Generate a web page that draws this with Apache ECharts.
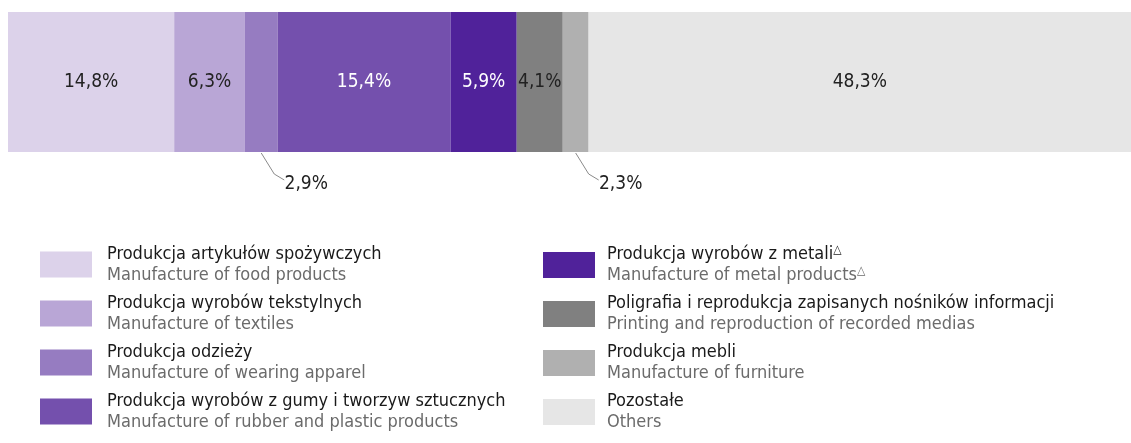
<!DOCTYPE html>
<html>
<head>
<meta charset="utf-8">
<script src="https://cdn.jsdelivr.net/npm/echarts@6/dist/echarts.min.js"></script>
<style>
  html, body { margin: 0; padding: 0; background: #fff; }
  #chart { width: 1131px; height: 443px; }
</style>
</head>
<body>
<div id="chart"></div>
<script>
// udział działów w produkcji (%)
const categoriesPl = [
  "Produkcja artykułów spożywczych",
  "Produkcja wyrobów tekstylnych",
  "Produkcja odzieży",
  "Produkcja wyrobów z gumy i tworzyw sztucznych",
  "Produkcja wyrobów z metali",
  "Poligrafia i reprodukcja zapisanych nośników informacji",
  "Produkcja mebli",
  "Pozostałe"
];
const categoriesEn = [
  "Manufacture of food products",
  "Manufacture of textiles",
  "Manufacture of wearing apparel",
  "Manufacture of rubber and plastic products",
  "Manufacture of metal products",
  "Printing and reproduction of recorded medias",
  "Manufacture of furniture",
  "Others"
];
const shares = [14.8, 6.3, 2.9, 15.4, 5.9, 4.1, 2.3, 48.3];
const marked = [false, false, false, false, true, false, false, false]; // znak △

const colors = ["#dcd2ea", "#b9a6d6", "#967cc1", "#7450ad", "#50229a", "#808080", "#b0b0b0", "#e6e6e6"];
const labelColors = ["#222", "#222", "#222", "#fff", "#fff", "#222", "#222", "#222"];
const outside = [false, false, true, false, false, false, true, false];

const FONT = "'Liberation Sans Narrow', 'DejaVu Sans Condensed', Roboto, sans-serif";

const chart = echarts.init(document.getElementById("chart"));

const fmtPct = v => v.toFixed(1).replace(".", ",") + "%";

// środki wąskich segmentów - do linii odniesienia
let acc = 0;
const leaderData = [];
shares.forEach((v, i) => {
  if (outside[i]) leaderData.push([acc + v / 2, 0]);
  acc += v;
});

const series = shares.map((v, i) => {
  const s = {
    name: categoriesPl[i],
    type: "bar",
    stack: "total",
    barWidth: "100%",
    data: [v],
    itemStyle: { color: colors[i] },
    emphasis: { disabled: true },
    label: {
      show: true,
      position: "inside",
      formatter: p => fmtPct(p.value),
      color: labelColors[i],
      fontFamily: FONT,
      fontSize: 19
    }
  };
  if (outside[i]) {
    s.label.position = "bottom";
    s.label.color = "#222";
    s.label.offset = [45, 18];
  }
  return s;
});

series.push({
  type: "custom",
  silent: true,
  data: leaderData,
  z: 5,
  renderItem: (params, api) => {
    const p = api.coord([api.value(0), 0]);
    const half = api.size([0, 1])[1] / 2;
    const x = p[0], y = p[1] + half;
    return {
      type: "polyline",
      shape: { points: [[x, y + 1], [x + 13, y + 22], [x + 23, y + 28]] },
      style: { stroke: "#8a8a8a", lineWidth: 1, fill: null }
    };
  }
});

const legendFormatter = name => {
  const i = categoriesPl.indexOf(name);
  const sup = marked[i] ? "{s|△}" : "";
  return "{a|" + categoriesPl[i] + "}" + sup + "\n{b|" + categoriesEn[i] + "}" + sup.replace("{s|", "{t|");
};
const legendText = pad => ({
  fontFamily: FONT,
  padding: [0, 0, 0, pad],
  rich: {
    a: { fontFamily: FONT, fontSize: 18, color: "#1a1a1a", lineHeight: 21 },
    b: { fontFamily: FONT, fontSize: 18, color: "#6b6b6b", lineHeight: 21 },
    s: { fontFamily: FONT, fontSize: 12, color: "#1a1a1a", verticalAlign: "top", lineHeight: 21 },
    t: { fontFamily: FONT, fontSize: 12, color: "#6b6b6b", verticalAlign: "top", lineHeight: 21 }
  }
});

chart.setOption({
  animation: false,
  grid: { left: 8, right: 0, top: 12, height: 140 },
  xAxis: { type: "value", min: 0, max: 100, show: false },
  yAxis: { type: "category", data: [""], show: false },
  legend: [
    {
      data: categoriesPl.slice(0, 4),
      orient: "vertical",
      left: 40,
      top: 245,
      padding: 0,
      itemWidth: 52,
      itemHeight: 26,
      itemGap: 10,
      icon: "rect",
      selectedMode: false,
      formatter: legendFormatter,
      textStyle: legendText(10)
    },
    {
      data: categoriesPl.slice(4),
      orient: "vertical",
      left: 543,
      top: 244,
      padding: 0,
      itemWidth: 52,
      itemHeight: 26,
      itemGap: 10,
      icon: "rect",
      selectedMode: false,
      formatter: legendFormatter,
      textStyle: legendText(7)
    }
  ],
  series: series
});
</script>
</body>
</html>
